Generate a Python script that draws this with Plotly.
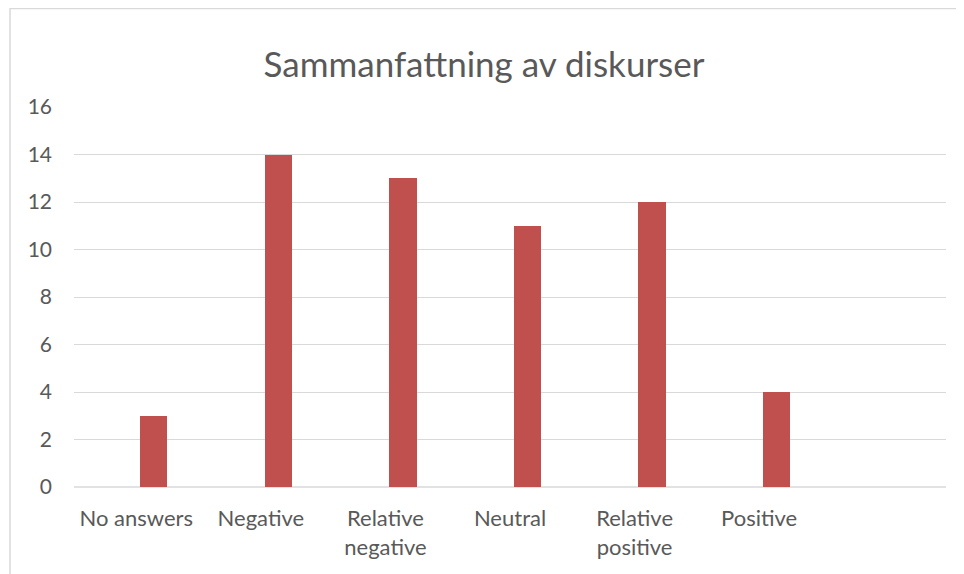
import plotly.graph_objects as go

categories = ["No answers", "Negative", "Relative<br>negative", "Neutral", "Relative<br>positive", "Positive"]
values = [3, 14, 13, 11, 12, 4]
y_ticks = [0, 2, 4, 6, 8, 10, 12, 14, 16]

x_pos = list(range(len(categories)))

# page has an 8px body margin; compensate so the plot lands where the reference has it
L, T, R, B = 66, 99, 26, 95
plot_w = 964 - L - R
plot_h = 574 - T - B

fig = go.Figure()
fig.add_trace(go.Bar(
    x=x_pos, y=values, marker_color="#C0504D", marker_line_width=0,
    width=0.22, offset=0.03, showlegend=False,
))

font_family = "Lato, Open Sans, sans-serif"
fig.update_layout(
    width=964, height=574,
    margin=dict(l=L, r=R, t=T, b=B),
    paper_bgcolor="white", plot_bgcolor="white",
    font=dict(family=font_family, color="#595959"),
    title=dict(text="Sammanfattning av diskurser", x=476 / 964, xanchor="center",
               y=1 - 57 / 574, yanchor="middle",
               font=dict(size=35, color="#595959", family=font_family)),
    xaxis=dict(range=[-0.5, 6.5], tickvals=x_pos, ticktext=categories,
               showgrid=False, zeroline=False, showline=False,
               ticks="", tickfont=dict(size=22, color="#595959"),
               ticklabelstandoff=16),
    yaxis=dict(range=[0, 16], tickvals=y_ticks, showgrid=True,
               gridcolor="#D9D9D9", gridwidth=1.3, zeroline=False,
               showline=False, ticks="", tickfont=dict(size=21, color="#595959"),
               ticklabelstandoff=21),
    bargap=0,
    shapes=[
        dict(type="line", xref="paper", yref="paper", x0=0, x1=1, y0=0, y1=0,
             line=dict(color="#D9D9D9", width=1.3), layer="below"),
        dict(type="rect", xref="paper", yref="paper",
             x0=(2 - L) / plot_w, x1=1.2, y0=-0.5, y1=1 + (T - 0.5) / plot_h,
             line=dict(color="#D9D9D9", width=1.5), fillcolor="rgba(0,0,0,0)"),
    ],
)

fig.write_html("out.html")
